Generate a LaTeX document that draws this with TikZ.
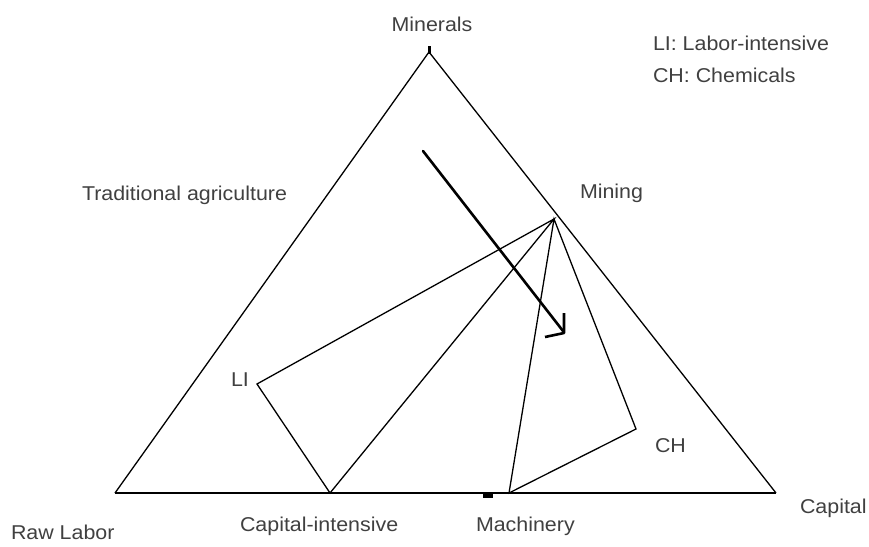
\documentclass[tikz,border=0pt]{standalone}
\usepackage{fontspec}
\setmainfont{Liberation Sans}[FakeStretch=1.07]
\begin{document}
\begin{tikzpicture}[x=1bp,y=-1bp,
  lbl/.style={inner sep=0pt,outer sep=0pt,text=black!75,font=\fontsize{20bp}{24bp}\selectfont},
  edge/.style={line width=1.3bp,black},
  base/.style={line width=1.8bp,black},
  bigarrow/.style={line width=2.6bp,black}]
\useasboundingbox (0,0) rectangle (869,547);
% vertices
\coordinate (top) at (429,52);
\coordinate (bl) at (115,493);
\coordinate (br) at (776,493);
\coordinate (mining) at (554,219);
\coordinate (li) at (257,384);
\coordinate (ci) at (330,493);
\coordinate (mach) at (509,493);
\coordinate (ch) at (636,429);
\coordinate (aS) at (423,151);
\coordinate (aE) at (563,331);
\coordinate (h1) at (564,313);
\coordinate (h2) at (564,333);
\coordinate (h3) at (545,337);
% triangle
\draw[edge] (bl) -- (top) -- (br);
\draw[base] (bl) -- (br);
\fill[black] (427.5,46) rectangle (431,54);
\fill[black] (483,494) rectangle (493,497.5);
% polygons from Mining
\draw[edge] (mining) -- (li) -- (ci) -- cycle;
\draw[edge] (mining) -- (mach) -- (ch) -- cycle;
% arrow
\draw[bigarrow,line cap=round] (aS) -- (aE);
\draw[bigarrow,line join=round] (h1) -- (h2) -- (h3);
% labels
\node[lbl,anchor=center] (tMin) at (432,24) {Minerals};
\node[lbl,anchor=west] (tLI) at (653,43) {LI: Labor-intensive};
\node[lbl,anchor=west] (tCH) at (653,75) {CH: Chemicals};
\node[lbl,anchor=west] (tTA) at (82,195) {Traditional agriculture};
\node[lbl,anchor=west] (tMining) at (580,193) {Mining};
\node[lbl,anchor=west] (tLIp) at (231,380) {LI};
\node[lbl,anchor=west] (tCHp) at (655,446) {CH};
\node[lbl,anchor=west] (tRaw) at (11,532) {Raw Labor};
\node[lbl,anchor=west] (tCI) at (240,526) {Capital-intensive};
\node[lbl,anchor=west] (tMach) at (476,526) {Machinery};
\node[lbl,anchor=west] (tCap) at (800,508) {Capital};
\end{tikzpicture}
\end{document}
